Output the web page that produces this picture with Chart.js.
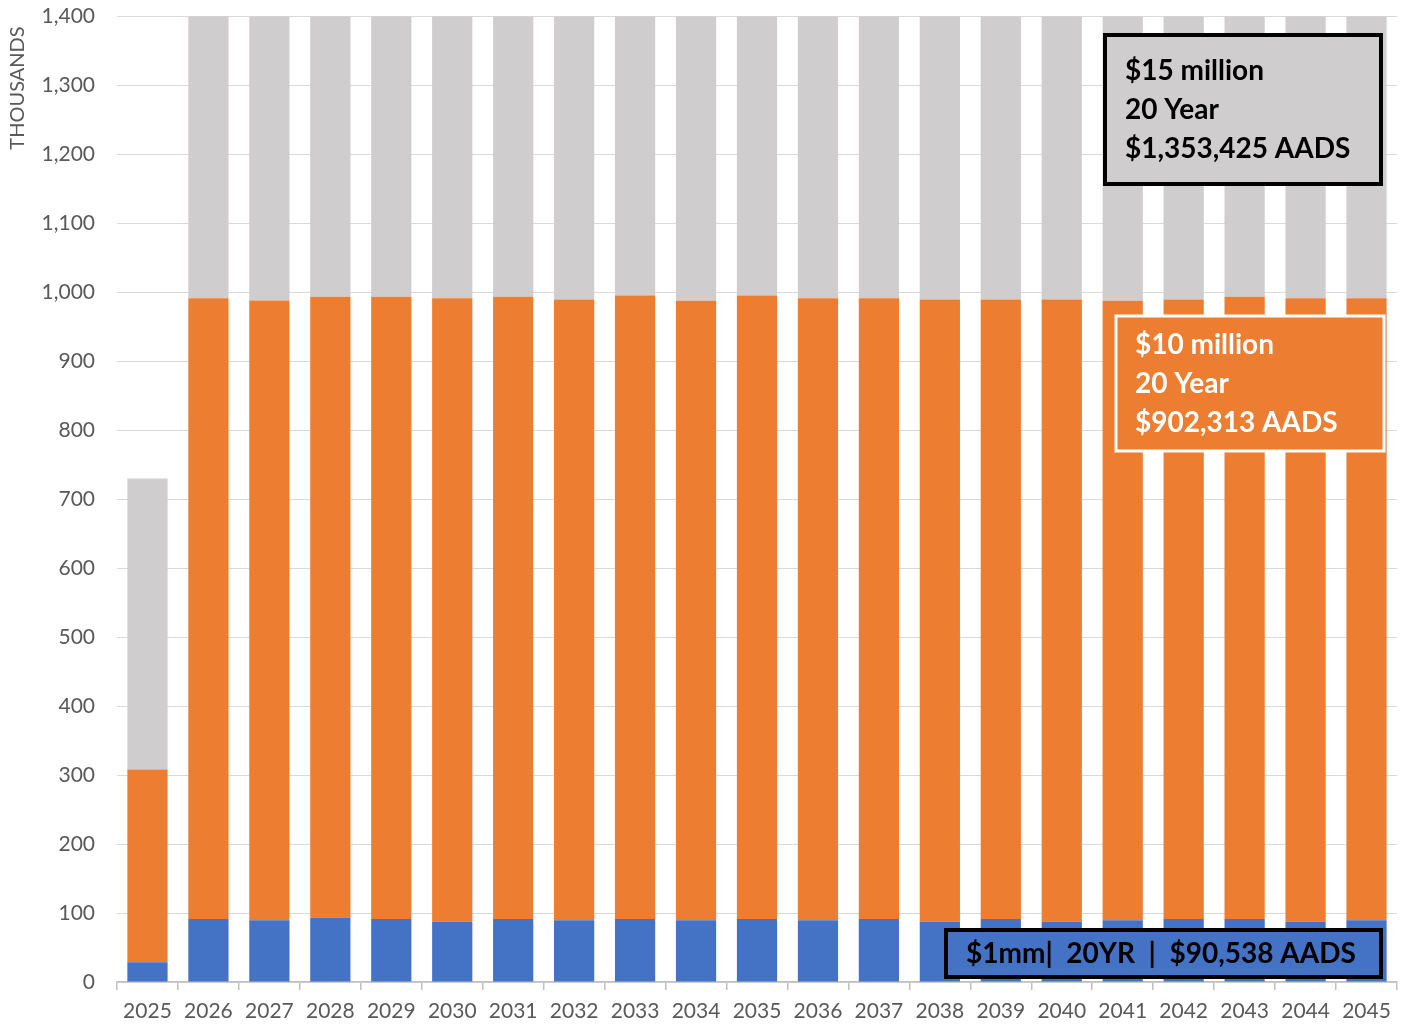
<!DOCTYPE html>
<html>
<head>
<meta charset="utf-8">
<script src="https://cdn.jsdelivr.net/npm/chart.js@4.4.1/dist/chart.umd.min.js"></script>
<style>
  html, body { margin: 0; padding: 0; background: #fff; overflow: hidden; }
  #wrap { width: 1407px; height: 1025px; overflow: hidden; }
  #myChart { display: block; margin-top: -18px; }
</style>
</head>
<body>
<div id="wrap"><canvas id="myChart" width="1407" height="1043"></canvas></div>
<script>
const years = [
  "2025", "2026", "2027", "2028", "2029", "2030", "2031", "2032", "2033", "2034", "2035",
  "2036", "2037", "2038", "2039", "2040", "2041", "2042", "2043", "2044", "2045",
];

// thousands of dollars
const oneMillion = [
  28.5, 91.3, 89.4, 93.7, 91.3, 87.4, 91.3, 89.4, 91.3, 89.4, 91.3,
  89.4, 91.3, 87.4, 91.3, 87.4, 89.4, 91.3, 91.3, 87.4, 89.4,
];
const tenMillion = [
  279.8, 900.4, 899.0, 900.1, 902.5, 904.3, 902.5, 900.5, 904.4, 898.6, 904.4,
  902.3, 900.4, 902.5, 898.6, 902.5, 898.6, 898.6, 902.5, 904.3, 902.3,
];
// bars run off the top of the axis from 2026 on, so these are estimates
const fifteenMillion = [
  421.7, 1353, 1350, 1355, 1354, 1356, 1354, 1350, 1356, 1348, 1356,
  1353, 1351, 1353, 1348, 1353, 1348, 1348, 1354, 1356, 1353,
];

const yTicks = [0, 100, 200, 300, 400, 500, 600, 700, 800, 900, 1000, 1100, 1200, 1300, 1400];

const BLUE = "#4472c4";
const ORANGE = "#ed7d31";
const GREY = "#cfcdce";
const TEXT = "#595959";
const FONT = "Lato, 'Open Sans', sans-serif";
const SHIFT = 18; // canvas is pulled up by this much

// text boxes drawn on top of the bars (page coordinates)
const boxes = [
  {
    x: 1105, y: 35, w: 276, h: 149, fill: GREY, stroke: "#000", lw: 4, color: "#000",
    lines: ["$15 million", "20 Year", "$1,353,425 AADS"], tx: 1125, ty: 71,
  },
  {
    x: 1116, y: 316, w: 268, h: 135, fill: ORANGE, stroke: "#fff", lw: 3, color: "#fff",
    lines: ["$10 million", "20 Year", "$902,313 AADS"], tx: 1135, ty: 345,
  },
  {
    x: 946, y: 930, w: 435, h: 47, fill: BLUE, stroke: "#000", lw: 4, color: "#000",
    lines: ["$1mm|  20YR  |  $90,538 AADS"], tx: 966, ty: 954,
  },
];

const boxPlugin = {
  id: "boxes",
  afterDatasetsDraw(chart) {
    const ctx = chart.ctx;
    ctx.save();
    ctx.translate(0, SHIFT);
    boxes.forEach((b) => {
      ctx.fillStyle = b.fill;
      ctx.fillRect(b.x, b.y, b.w, b.h);
      ctx.lineWidth = b.lw;
      ctx.strokeStyle = b.stroke;
      ctx.strokeRect(b.x, b.y, b.w, b.h);
      ctx.fillStyle = b.color;
      ctx.font = "bold 28px " + FONT;
      ctx.textAlign = "left";
      ctx.textBaseline = "middle";
      b.lines.forEach((t, i) => ctx.fillText(t, b.tx, b.ty + i * 39));
    });
    // axis title, sits near the top like the original
    ctx.translate(18, 88);
    ctx.rotate(-Math.PI / 2);
    ctx.fillStyle = TEXT;
    ctx.font = "20px " + FONT;
    ctx.textAlign = "center";
    ctx.textBaseline = "middle";
    ctx.fillText("THOUSANDS", 0, 0);
    ctx.restore();
  },
};

const data = {
  labels: years,
  datasets: [
    { label: "$1mm", data: oneMillion, backgroundColor: BLUE },
    { label: "$10 million", data: tenMillion, backgroundColor: ORANGE },
    { label: "$15 million", data: fifteenMillion, backgroundColor: GREY },
  ],
};

const config = {
  type: "bar",
  data: data,
  options: {
    responsive: false,
    animation: false,
    layout: { padding: { top: 4, right: 10, bottom: 0, left: 6 } },
    datasets: { bar: { categoryPercentage: 1, barPercentage: 0.66 } },
    plugins: { legend: { display: false }, tooltip: { enabled: false } },
    scales: {
      x: {
        stacked: true,
        afterFit: (s) => { s.height = 43; },
        grid: { drawOnChartArea: false, drawTicks: true, tickLength: 8, color: "#bfbfbf", lineWidth: 1.5 },
        border: { display: true, color: "#bfbfbf", width: 1.5 },
        ticks: { color: TEXT, font: { family: FONT, size: 21 }, padding: 9, maxRotation: 0, autoSkip: false },
      },
      y: {
        stacked: true,
        min: 0,
        max: 1400,
        afterBuildTicks: (s) => { s.ticks = yTicks.map((v) => ({ value: v })); },
        afterFit: (s) => { s.width = 111; },
        grid: { color: "#d9d9d9", lineWidth: 1, drawTicks: false },
        border: { display: false },
        ticks: {
          color: TEXT,
          font: { family: FONT, size: 21 },
          padding: 22,
          callback: (v) => v.toLocaleString("en-US"),
        },
      },
    },
  },
  plugins: [boxPlugin],
};

const barChart = new Chart(document.getElementById("myChart"), config);
</script>
</body>
</html>
